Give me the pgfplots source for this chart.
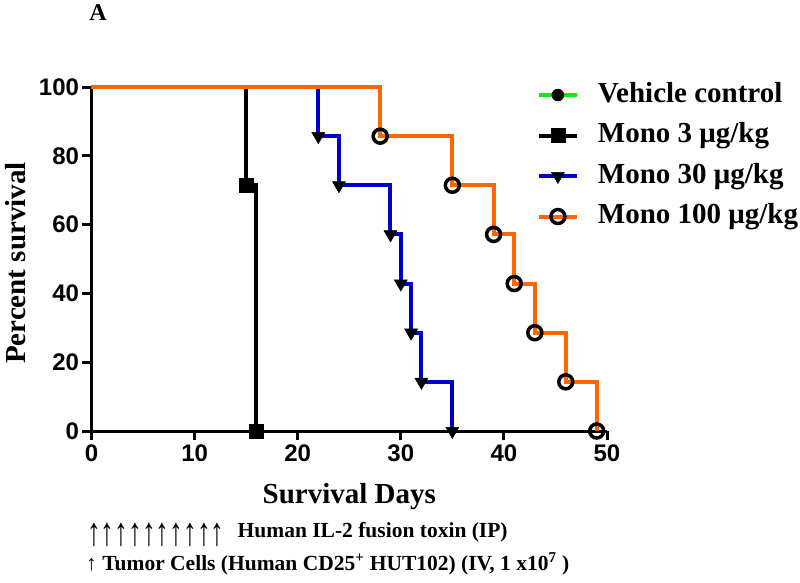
\documentclass[border=0pt]{standalone}
\usepackage{pgfplots}
\pgfplotsset{compat=1.18}
\usepackage{fontspec}
\setmainfont{Liberation Serif}
\setsansfont{Liberation Sans}
\definecolor{vgreen}{RGB}{20,230,20}
\definecolor{mblue}{RGB}{0,0,200}
\definecolor{morange}{RGB}{255,102,0}
\begin{document}
\begin{tikzpicture}[x=1pt,y=1pt]
\begin{axis}[
  at={(0,0)}, anchor=south west,
  width=515.5pt, height=344pt, scale only axis,
  xmin=0, xmax=50, ymin=0, ymax=100,
  axis x line=bottom, axis y line=left,
  axis line style={line width=3pt, -},
  xtick={0,10,...,50}, ytick={0,20,...,100},
  tick align=outside, major tick length=9pt,
  tick style={line width=3pt, black},
  tick label style={font=\sffamily\bfseries\fontsize{24}{24}\selectfont},
  /pgf/number format/assume math mode=true,
  xticklabel style={yshift=-1pt},
  xlabel={Survival Days}, ylabel={Percent survival},
  every axis x label/.style={at={(axis description cs:0.5,-0.192)}, anchor=center,
    font=\bfseries\fontsize{29}{29}\selectfont},
  every axis y label/.style={at={(axis description cs:-0.148,0.488)}, anchor=center, rotate=90,
    font=\bfseries\fontsize{29}{29}\selectfont},
  clip=false,
  legend cell align=left,
  legend style={draw=none, fill=none, at={(axis description cs:0.864,1.0145)}, anchor=north west,
    inner sep=0pt, outer sep=0pt, row sep=14.5pt, column sep=19pt,
    font=\bfseries\fontsize{29}{29}\selectfont,
    nodes={inner sep=0pt, text depth=6pt, text height=20pt}},
  legend image code/.code={
    \draw[mark repeat=2,mark phase=2,#1] plot coordinates {(0pt,0pt) (19pt,0pt) (38pt,0pt)};},
]
% legend entries
\addlegendimage{vgreen, line width=4pt, mark=*, mark options={black, solid, line width=0.5pt, mark size=6pt}}
\addlegendimage{black, line width=4pt, mark=square*, mark options={black, solid, line width=0.5pt, mark size=7pt}}
\addlegendimage{mblue, line width=4pt, mark=triangle*, mark options={black, solid, line width=0.5pt, rotate=180, mark size=7.5pt}}
\addlegendimage{morange, line width=4pt, mark=o, mark options={black, solid, line width=3.5pt, mark size=7pt}}

% Mono 3 ug/kg
\addplot[forget plot, black, line width=4pt, const plot, mark=square*, mark indices={2,3},
  mark options={black, line width=0.5pt, mark size=7pt}] coordinates {
  (0,100) (15,71.43) (16,0)
};
% Mono 30 ug/kg
\addplot[forget plot, mblue, line width=4pt, const plot, mark=triangle*, mark indices={2,3,4,5,6,7,8},
  mark options={black, line width=0.5pt, rotate=180, mark size=7.5pt}] coordinates {
  (0,100) (22,85.71) (24,71.43) (29,57.14) (30,42.86) (31,28.57) (32,14.29) (35,0)
};
% Mono 100 ug/kg
\addplot[forget plot, morange, line width=4pt, const plot, mark=o, mark indices={2,3,4,5,6,7,8},
  mark options={black, line width=3.5pt, mark size=7pt}] coordinates {
  (0,100) (28,85.71) (35,71.43) (39,57.14) (41,42.86) (43,28.57) (46,14.29) (49,0)
};
\legend{Vehicle control, Mono 3 μg/kg, Mono 30 μg/kg, Mono 100 μg/kg}
\end{axis}
\node[font=\bfseries\fontsize{24}{24}\selectfont, inner sep=0pt] at (6.5,418) {A};
\node[anchor=base west, inner sep=0pt] at (-4.5,-106)
  {\raisebox{-8pt}{\scalebox{1}[1.45]{\fontsize{27.5}{27.5}\selectfont ↑↑↑↑↑↑↑↑↑↑}}\hspace{13pt}{\bfseries\fontsize{21.5}{21.5}\selectfont Human IL-2 fusion toxin (IP)}};
\node[anchor=base west, inner sep=0pt, font=\bfseries\fontsize{21.5}{21.5}\selectfont] at (-5.5,-139)
  {↑ Tumor Cells (Human CD25\textsuperscript{+} HUT102) (IV, 1 x10\textsuperscript{7} )};
\pgfresetboundingbox
\path (-91.5,-151) rectangle (708.5,431);
\end{tikzpicture}
\end{document}
